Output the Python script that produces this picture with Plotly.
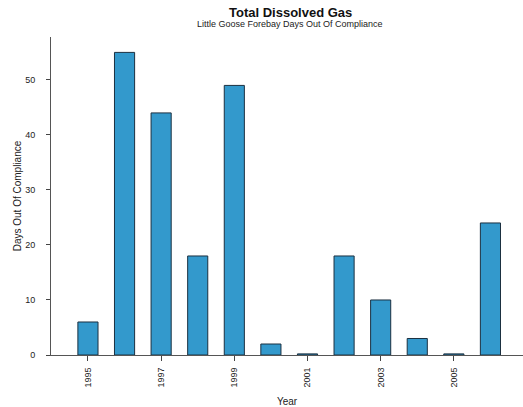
import plotly.graph_objects as go

years = [1995, 1996, 1997, 1998, 1999, 2000, 2001, 2002, 2003, 2004, 2005, 2006]
days_out = [6, 55, 44, 18, 49, 2, 0.2, 18, 10, 3, 0.2, 24]
x_tick_vals = [1995, 1997, 1999, 2001, 2003, 2005]
y_tick_vals = [0, 10, 20, 30, 40, 50]

FONT = "Liberation Sans, Arial, sans-serif"

fig = go.Figure(go.Bar(
    x=years, y=days_out, width=0.55,
    marker=dict(color="#3399cc", line=dict(color="#1b3040", width=1)),
))

fig.update_layout(
    width=523, height=407,
    margin=dict(l=51, r=0, t=37, b=52, autoexpand=False),
    plot_bgcolor="white", paper_bgcolor="white",
    font=dict(family=FONT, size=9, color="#222"),
    showlegend=False,
    annotations=[
        dict(text="<b>Total Dissolved Gas</b>", x=0.5, y=1, xref="paper", yref="paper",
             xshift=3, yshift=25, showarrow=False, font=dict(size=13, color="#111"), yanchor="middle"),
        dict(text="Little Goose Forebay Days Out Of Compliance", x=0.5, y=1, xref="paper", yref="paper",
             xshift=3, yshift=13, showarrow=False, font=dict(size=9, color="#222"), yanchor="middle"),
    ],
)
fig.update_xaxes(
    automargin=False,
    range=[1993.99, 2006.89], tickvals=x_tick_vals, ticktext=[str(v) for v in x_tick_vals],
    tickangle=-90, ticks="outside", ticklen=5, tickcolor="#444",
    ticklabelstandoff=3,
    showline=True, linecolor="#555", linewidth=1, showgrid=False, zeroline=False,
    title=dict(text="Year", standoff=12, font=dict(size=10)),
)
fig.update_yaxes(
    automargin=False,
    range=[0, 57.8], tickvals=y_tick_vals, ticks="outside", ticklen=4, tickcolor="#444",
    ticklabelstandoff=9,
    showline=True, linecolor="#555", linewidth=1, showgrid=False, zeroline=False,
    title=dict(text="Days Out Of Compliance", standoff=1, font=dict(size=10)),
)

fig.write_html("out.html", config={"displayModeBar": False},
               post_script="document.body.style.margin='0';document.body.style.overflow='hidden';")
